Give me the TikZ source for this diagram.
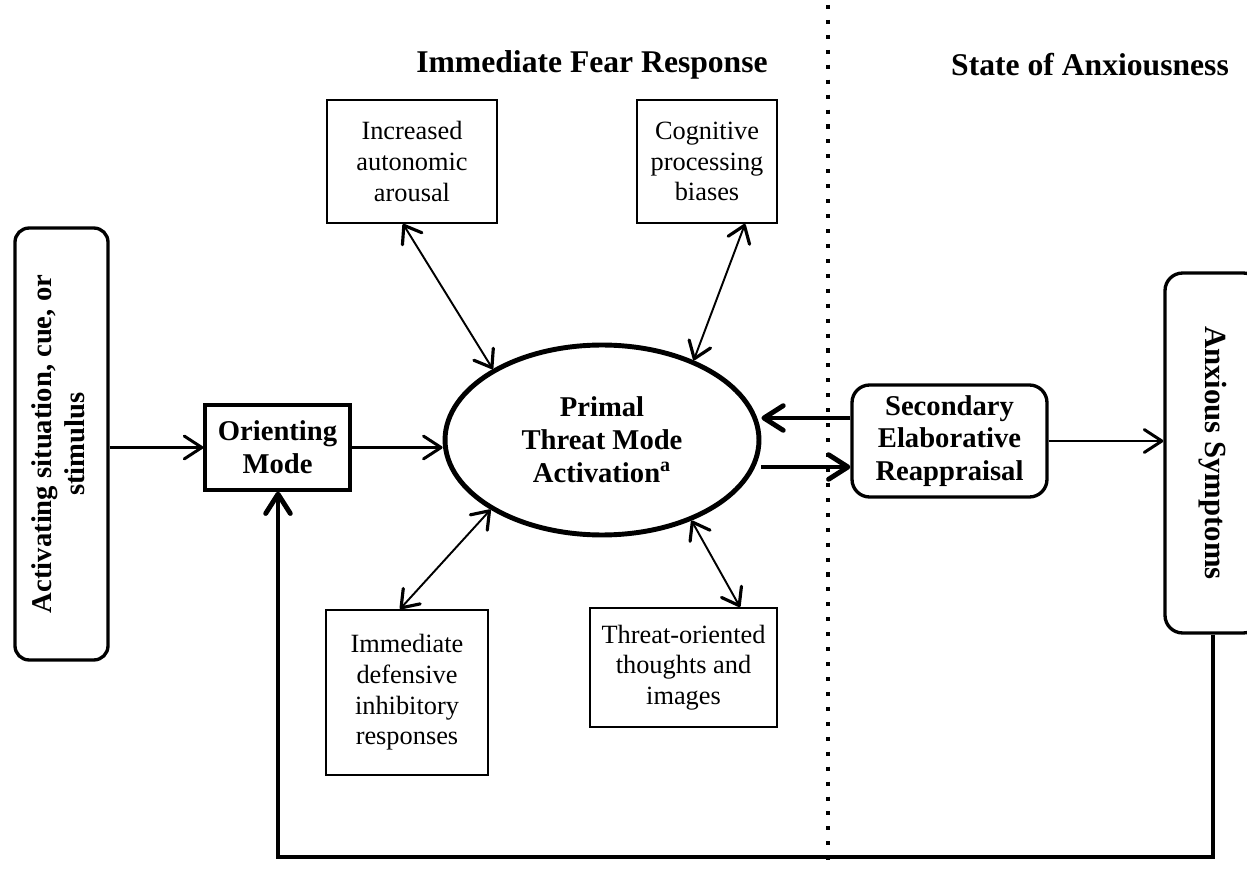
\documentclass[tikz,border=0pt]{standalone}
\usepackage{fontspec}
\setmainfont{Liberation Serif}
\usetikzlibrary{arrows.meta,shapes.geometric}

\begin{document}
\begin{tikzpicture}[x=0.02cm,y=-0.02cm,
  small/.style={draw,line width=1.1pt,align=center,inner sep=0pt,font=\fontsize{15}{17.5}\selectfont},
  big/.style={draw,line width=1.9pt,align=center,inner sep=0pt,font=\bfseries\fontsize{16.3}{18.7}\selectfont},
  head/.style={font=\bfseries\fontsize{18}{21}\selectfont},
  dotline/.style={line width=2.3pt,dash pattern=on 2.3pt off 6.2pt},
  dbl/.style={line width=1.1pt,{Straight Barb[length=9pt,width=13pt,round,line width=1.8pt]}-{Straight Barb[length=9pt,width=13pt,round,line width=1.8pt]}},
  mid/.style={line width=1.7pt,-{Straight Barb[length=10pt,width=13pt,round]}},
  heavy/.style={line width=2.8pt,-{Straight Barb[length=11pt,width=14pt,round]}}]
  \clip (0,0) rectangle (1247,874);

  \node[head] (ifr) at (592,65) {Immediate Fear Response};
  \node[head] (soa) at (1090,65) {State of Anxiousness};
  \draw[dotline] (828,5) -- (828,868);

  \node[big,rounded corners=8pt,minimum width=1.86cm,minimum height=8.64cm] (act) at (61.5,444) {\rotatebox{90}{\begin{tabular}{@{}c@{}}Activating situation, cue, or\\stimulus\end{tabular}}};
  \node[big,minimum width=2.9cm,minimum height=1.7cm] (ori) at (277.5,447.5) {Orienting\\Mode};
  \node[big,ellipse,line width=2.8pt,minimum width=6.28cm,minimum height=3.8cm] (ptm) at (602,440) {Primal\\Threat Mode\\Activation\textsuperscript{a}};
  \node[big,rounded corners=10pt,minimum width=3.9cm,minimum height=2.24cm] (ser) at (949.5,441) {Secondary\\Elaborative\\Reappraisal};
  \node[big,rounded corners=10pt,minimum width=1.92cm,minimum height=7.2cm,font=\bfseries\fontsize{17.5}{20}\selectfont] (anx) at (1213,453) {\rotatebox{-90}{Anxious Symptoms}};

  \node[small,minimum width=3.4cm,minimum height=2.46cm] (aut) at (412,161.5) {Increased\\autonomic\\arousal};
  \node[small,minimum width=2.8cm,minimum height=2.46cm] (cog) at (707,161.5) {Cognitive\\processing\\biases};
  \node[small,minimum width=3.24cm,minimum height=3.3cm] (def) at (407,692.5) {Immediate\\defensive\\inhibitory\\responses};
  \node[small,minimum width=3.74cm,minimum height=2.38cm] (tho) at (683.5,667.5) {Threat-oriented\\thoughts and\\images};

  \draw[mid] (act.east |- ori.west) -- (ori.west);
  \draw[mid] (ori.east) -- (ori.east -| ptm.west);
  \draw[heavy] ([yshift=0.46cm]ser.west) -- ([yshift=0.46cm]ser.west -| ptm.east);
  \draw[heavy] ([yshift=-0.52cm]ser.west -| ptm.east) -- ([yshift=-0.52cm]ser.west);
  \draw[mid] (ser.east) -- (ser.east -| anx.west);
  \coordinate (fb) at (278,857);
  \draw[heavy] (anx.south) |- (fb) -- (fb |- ori.south);

  \draw[dbl] ([xshift=-0.18cm]aut.south) -- (ptm.147);
  \draw[dbl] ([xshift=0.76cm]cog.south) -- (ptm.41);
  \draw[dbl] (ptm.212) -- ([xshift=-0.14cm]def.north);
  \draw[dbl] (ptm.318) -- ([xshift=1.13cm]tho.north);
\end{tikzpicture}
\end{document}
